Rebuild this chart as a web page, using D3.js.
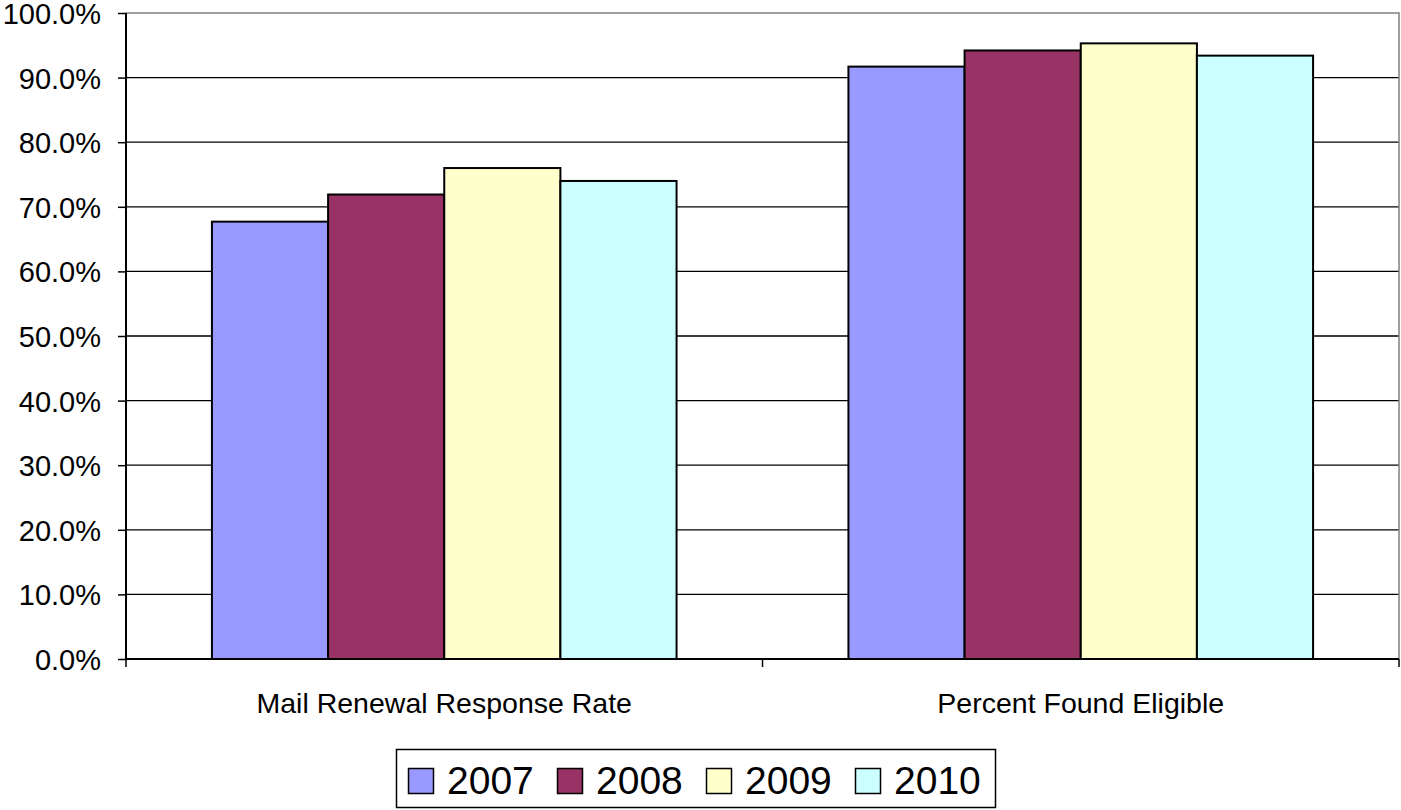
<!DOCTYPE html>
<html>
<head>
<meta charset="utf-8">
<script src="https://cdn.jsdelivr.net/npm/d3@7"></script>
<style>
  body { margin: 0; background: #fff; }
  svg text { font-family: "Liberation Sans", Arial, sans-serif; fill: #000; }
</style>
</head>
<body>
<div id="chart"></div>
<script>
// data
const categories = ["Mail Renewal Response Rate", "Percent Found Eligible"];
const years = ["2007", "2008", "2009", "2010"];
const values2007 = [67.7, 91.7];
const values2008 = [71.9, 94.2];
const values2009 = [76.0, 95.3];
const values2010 = [74.0, 93.4];
const colors = ["#9999FF", "#993366", "#FFFFCC", "#CCFFFF"];
const yTicks = [0, 10, 20, 30, 40, 50, 60, 70, 80, 90, 100];

const seriesValues = [values2007, values2008, values2009, values2010];

const width = 1401, height = 810;
const plot = { left: 126, top: 13, right: 1399, bottom: 659 };

const svg = d3.select("#chart").append("svg")
    .attr("width", width)
    .attr("height", height);

const y = d3.scaleLinear().domain([0, 100]).range([plot.bottom, plot.top]);
const x0 = d3.scaleBand().domain(categories).range([plot.left, plot.right]);
const gap = x0.bandwidth() * 0.135;
const x1 = d3.scaleBand().domain(years).range([gap, x0.bandwidth() - gap]);

// gridlines
svg.append("g")
    .selectAll("line")
    .data(yTicks.filter(d => d > 0 && d < 100))
    .join("line")
    .attr("x1", plot.left)
    .attr("x2", plot.right)
    .attr("y1", d => y(d))
    .attr("y2", d => y(d))
    .attr("stroke", "#000")
    .attr("stroke-width", 1.3);

// plot border top / right (gray)
svg.append("path")
    .attr("d", `M${plot.left},${plot.top}H${plot.right}V${plot.bottom}`)
    .attr("fill", "none")
    .attr("stroke", "#808080")
    .attr("stroke-width", 1.5);

// bars
const groups = svg.append("g")
    .selectAll("g")
    .data(categories)
    .join("g")
    .attr("transform", d => `translate(${x0(d)},0)`);

groups.selectAll("rect")
    .data((c, i) => years.map((yr, j) => ({ year: yr, value: seriesValues[j][i], color: colors[j] })))
    .join("rect")
    .attr("x", d => x1(d.year))
    .attr("y", d => y(d.value))
    .attr("width", x1.bandwidth())
    .attr("height", d => plot.bottom - y(d.value))
    .attr("fill", d => d.color)
    .attr("stroke", "#000")
    .attr("stroke-width", 2);

// y axis
const yAxis = svg.append("g")
    .attr("transform", `translate(${plot.left},0)`)
    .call(d3.axisLeft(y).tickValues(yTicks).tickSize(8).tickPadding(17)
        .tickFormat(d => d.toFixed(1) + "%"));
yAxis.select(".domain").attr("stroke", "#000").attr("stroke-width", 2)
    .attr("d", `M0,${plot.top}V${plot.bottom}`);
yAxis.selectAll(".tick line").attr("stroke", "#000").attr("stroke-width", 1.5);
yAxis.selectAll(".tick text").style("font-size", "29px").attr("dy", "0.36em");

// x axis
const xAxis = svg.append("g")
    .attr("transform", `translate(0,${plot.bottom})`);
xAxis.append("line")
    .attr("x1", plot.left).attr("x2", plot.right)
    .attr("stroke", "#000").attr("stroke-width", 2);
xAxis.selectAll("line.tk")
    .data([...categories.map(c => x0(c)), plot.right])
    .join("line")
    .attr("class", "tk")
    .attr("x1", d => d).attr("x2", d => d)
    .attr("y1", 0).attr("y2", 8)
    .attr("stroke", "#000").attr("stroke-width", 1.5);
xAxis.selectAll("text")
    .data(categories)
    .join("text")
    .attr("x", d => x0(d) + x0.bandwidth() / 2)
    .attr("y", 54)
    .attr("text-anchor", "middle")
    .style("font-size", "28.5px")
    .text(d => d);

// legend
const legend = svg.append("g");
legend.append("rect")
    .attr("x", 396.5).attr("y", 749.5)
    .attr("width", 599).attr("height", 58)
    .attr("fill", "#fff")
    .attr("stroke", "#000")
    .attr("stroke-width", 1.5);

const items = legend.selectAll("g.item")
    .data(years)
    .join("g")
    .attr("class", "item")
    .attr("transform", (d, i) => `translate(${408 + i * 149},0)`);
items.append("rect")
    .attr("x", 0.5).attr("y", 768.5)
    .attr("width", 25).attr("height", 25)
    .attr("fill", (d, i) => colors[i])
    .attr("stroke", "#000")
    .attr("stroke-width", 1.5);
items.append("text")
    .attr("x", 39)
    .attr("y", 794)
    .style("font-size", "39px")
    .text(d => d);
</script>
</body>
</html>
